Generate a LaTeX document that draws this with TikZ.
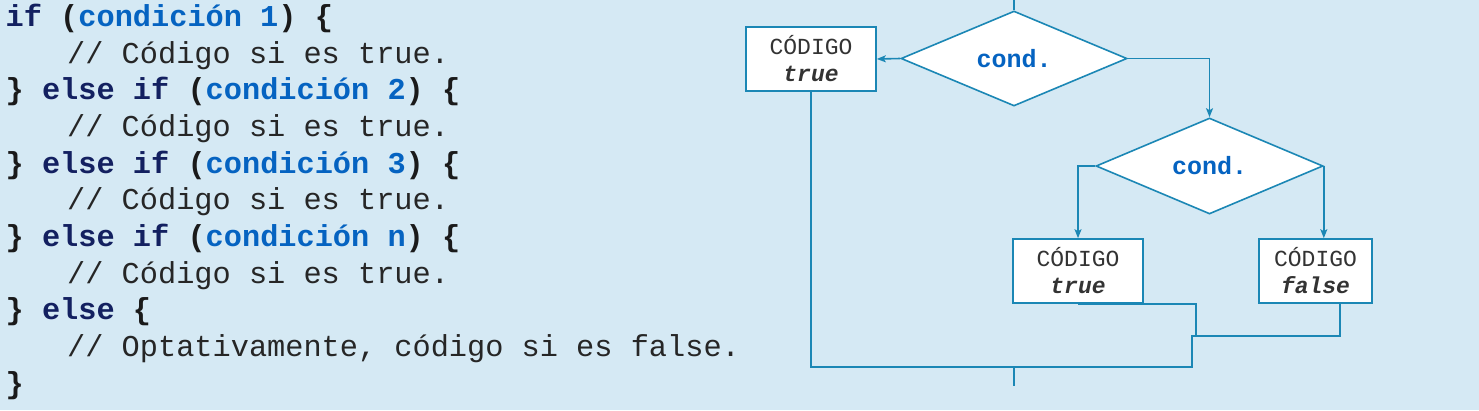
\documentclass[tikz,border=0pt]{standalone}
\usepackage{fontspec}
\newfontfamily\codefont{Liberation Mono}
\usetikzlibrary{shapes.geometric,arrows.meta}
\definecolor{bg}{HTML}{D5E9F4}
\definecolor{kwc}{HTML}{132060}
\definecolor{condc}{HTML}{0563C1}
\definecolor{punc}{HTML}{1A1A1A}
\definecolor{cmt}{HTML}{262626}
\definecolor{lc}{HTML}{1B87B5}
\definecolor{boxtxt}{HTML}{333333}
\newcommand\codekw[1]{{\bfseries\color{kwc}#1}}
\newcommand\codecond[1]{{\bfseries\color{condc}#1}}
\newcommand\codepunct[1]{{\bfseries\color{punc}#1}}
\tikzset{
  codeline/.style={anchor=base west, inner sep=0pt, font=\codefont\fontsize{30.3}{36}\selectfont},
  comment/.style={codeline, text=cmt},
  codebox/.style={draw=lc, fill=white, line width=1.6pt, inner sep=0pt,
    minimum height=64pt, align=center, text=boxtxt,
    font=\codefont\fontsize{23}{27}\selectfont},
  decision/.style={diamond, draw=lc, fill=white, line width=1.6pt,
    minimum width=226pt, minimum height=95pt, inner sep=0pt,
    font=\codefont\bfseries\fontsize{25}{30}\selectfont, text=condc},
  conn/.style={draw=lc, line width=1.6pt},
  arr/.style={-{Stealth[length=9pt,width=7pt,inset=2pt]}}
}
\begin{document}
\begin{tikzpicture}[x=1pt,y=-1pt]
\fill[bg] (0,0) rectangle (1479,410);
\useasboundingbox (0,0) rectangle (1479,410);
% code
\node[codeline] (l1) at (5.5,26.5) {\codekw{if} \codepunct{(}\codecond{condición 1}\codepunct{)} \codepunct{\{}};
\node[comment] (l2) at (67,63.1) {// Código si es true.};
\node[codeline] (l3) at (5.5,99.8) {\codepunct{\}} \codekw{else if} \codepunct{(}\codecond{condición 2}\codepunct{)} \codepunct{\{}};
\node[comment] (l4) at (67,136.4) {// Código si es true.};
\node[codeline] (l5) at (5.5,173.1) {\codepunct{\}} \codekw{else if} \codepunct{(}\codecond{condición 3}\codepunct{)} \codepunct{\{}};
\node[comment] (l6) at (67,209.7) {// Código si es true.};
\node[codeline] (l7) at (5.5,246.4) {\codepunct{\}} \codekw{else if} \codepunct{(}\codecond{condición n}\codepunct{)} \codepunct{\{}};
\node[comment] (l8) at (67,283.0) {// Código si es true.};
\node[codeline] (l9) at (5.5,319.7) {\codepunct{\}} \codekw{else} \codepunct{\{}};
\node[comment] (l10) at (67,356.3) {// Optativamente, código si es false.};
\node[codeline] (l11) at (5.5,393.0) {\codepunct{\}}};
% flowchart
\coordinate (top) at (1014,0);
\node[decision] (d1) at (1014,58.5) {cond.};
\node[codebox, minimum width=130pt] (b1) at (811,59) {CÓDIGO\\{\bfseries\itshape true}};
\node[decision, minimum width=227pt, minimum height=96pt] (d2) at (1209.5,166) {cond.};
\node[codebox, minimum width=130pt] (b2) at (1078,271) {CÓDIGO\\{\bfseries\itshape true}};
\node[codebox, minimum width=113pt] (b3) at (1315.5,271) {CÓDIGO\\{\bfseries\itshape false}};
\coordinate (j1) at (1196,336);
\coordinate (j2) at (1192,336);
\coordinate (j3) at (1192,367);
\coordinate (m) at (1014,367);
\coordinate (out) at (1014,386);
\draw[conn] (top) -- (d1.north);
\draw[conn,arr] (d1.west) -- (b1.east);
\draw[conn,arr] (d1.east) -| (d2.north);
\draw[conn,arr] (d2.west) -| (b2.north);
\draw[conn,arr] (d2.east) -- (d2.east |- b3.north);
\draw[conn] (b2.south) -| (j1);
\draw[conn] ([xshift=-33pt]b3.south east) |- (j2) -- (j3) -| (b1.south);
\draw[conn] (m) -- (out);
\end{tikzpicture}
\end{document}
